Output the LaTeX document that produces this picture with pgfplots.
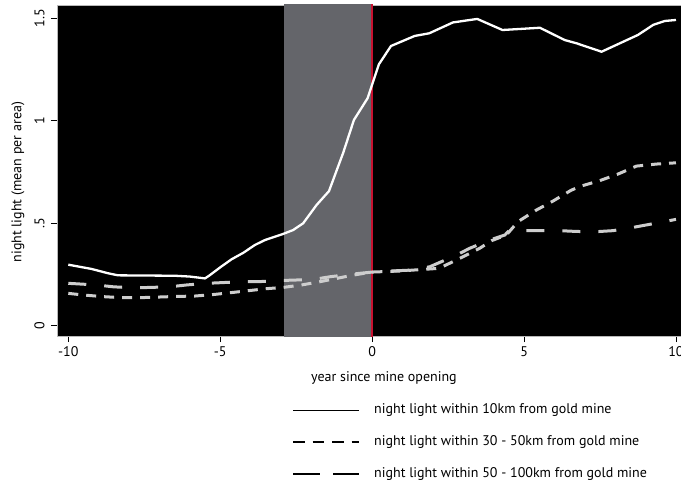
\documentclass[border=0pt]{standalone}
\usepackage{fontspec}
\setmainfont{PT Sans}
\usepackage{pgfplots}
\pgfplotsset{compat=1.18}
\definecolor{bandgray}{RGB}{100,101,106}
\definecolor{minered}{RGB}{200,18,48}
\definecolor{dashgray}{RGB}{205,205,205}
\definecolor{framegray}{RGB}{185,185,185}
\newcommand{\fs}{\fontsize{14pt}{16pt}\selectfont}
\begin{document}
\begin{tikzpicture}
\path[use as bounding box] (-57pt,-147pt) rectangle (624pt,336pt);
\begin{axis}[
  scale only axis,
  width=624pt, height=331pt,
  xmin=-10.372, xmax=10.165,
  ymin=-0.050, ymax=1.565,
  axis background/.style={fill=black},
  axis line style={framegray, line width=0.8pt},
  tick align=outside,
  xtick pos=bottom, ytick pos=left,
  major tick length=6pt,
  tick style={black, line width=0.8pt},
  xtick={-10,-5,0,5,10},
  xticklabels={-10,-5,0,5,10},
  ytick={0,0.5,1,1.5},
  yticklabels={0,.5,1,1.5},
  ticklabel style={font=\fs},
  xticklabel style={yshift=-1pt},
  yticklabel style={rotate=90, anchor=south, yshift=3pt},
  xlabel={year since mine opening},
  ylabel={night light (mean per area)},
  every axis x label/.style={at={(axis description cs:0.524,-0.127)}, anchor=center, font=\fs},
  every axis y label/.style={at={(axis description cs:-0.0625,0.465)}, rotate=90, anchor=center, font=\fs},
  legend style={at={(axis description cs:0.3766,-0.2054)}, anchor=north west,
    draw=none, fill=none, inner sep=0pt, outer sep=0pt,
    font=\fs, row sep=16.5pt, column sep=14pt,
    nodes={inner sep=0pt, text height=10pt, text depth=3.5pt},
    cells={anchor=west}},
  legend image code/.code={\draw[#1] (0pt,0pt) -- (66pt,0pt); \path (0pt,-7.5pt);},
]
\addplot[fill=bandgray, draw=none, forget plot] coordinates {(-2.9,-1) (-2.9,2) (0,2) (0,-1)} -- cycle;
\addplot[minered, line width=2.5pt, forget plot] coordinates {(0,-1) (0,2)};

\addplot[white, line width=2.3pt, line join=round, forget plot] coordinates {
(-10,0.298) (-9.23,0.277) (-8.69,0.256) (-8.36,0.246) (-6.5,0.244) (-6.0,0.240) (-5.5,0.231)
(-5.34,0.247) (-5.0,0.285) (-4.63,0.324) (-4.24,0.356) (-3.86,0.394) (-3.53,0.418)
(-2.93,0.448) (-2.6,0.467) (-2.27,0.500) (-1.83,0.589) (-1.42,0.657) (-0.95,0.845) (-0.6,1.004)
(-0.15,1.11) (0.22,1.275) (0.62,1.365) (1.4,1.414) (1.88,1.427) (2.66,1.480) (3.46,1.497)
(4.29,1.443) (5.19,1.451) (5.52,1.454) (6.34,1.394) (6.73,1.378) (7.55,1.337) (8.15,1.378)
(8.75,1.419) (9.25,1.468) (9.63,1.487) (10,1.492)};

\addplot[dashgray, line width=3pt, dash pattern=on 10pt off 8pt, forget plot] coordinates {
(-10,0.158) (-9.5,0.150) (-8.85,0.142) (-8.25,0.137) (-7.64,0.137) (-7.04,0.140) (-6.44,0.143)
(-5.83,0.145) (-5.18,0.153) (-4.68,0.161) (-4.08,0.171) (-3.47,0.181) (-2.93,0.187) (-2.32,0.199)
(-1.72,0.215) (-1.17,0.231) (-0.63,0.247) (0,0.262) (0.9,0.267) (1.68,0.275) (2.2,0.28)
(2.89,0.329) (3.54,0.378) (3.93,0.415) (4.42,0.443) (4.8,0.508) (5.41,0.565) (5.96,0.609)
(6.56,0.662) (6.89,0.682) (7.49,0.708) (8.09,0.740) (8.7,0.779) (9.36,0.789) (10,0.795)};

\addplot[dashgray, line width=3pt, dash pattern=on 18pt off 18pt, forget plot] coordinates {
(-10,0.207) (-9.07,0.199) (-8.52,0.190) (-7.86,0.185) (-7.31,0.187) (-6.66,0.190) (-6.11,0.199)
(-5.45,0.207) (-5.0,0.210) (-4.3,0.215) (-3.75,0.215) (-3.15,0.220) (-2.54,0.223) (-1.94,0.226)
(-1.39,0.239) (-0.73,0.251) (0.14,0.264) (1.35,0.272) (1.9,0.288) (2.78,0.345) (3.21,0.378)
(3.87,0.418) (4.37,0.443) (4.53,0.467) (4.97,0.464) (5.52,0.464) (6.18,0.464) (6.73,0.460)
(7.38,0.459) (7.93,0.464) (8.59,0.480) (9.14,0.495) (10,0.519)};

\addlegendimage{black, line width=1.3pt}
\addlegendentry{night light within 10km from gold mine}
\addlegendimage{black, line width=2pt, dash pattern=on 11.7pt off 7.8pt}
\addlegendentry{night light within 30 - 50km from gold mine}
\addlegendimage{black, line width=2.2pt, dash pattern=on 26.7pt off 13.3pt}
\addlegendentry{night light within 50 - 100km from gold mine}
\end{axis}
\end{tikzpicture}
\end{document}
